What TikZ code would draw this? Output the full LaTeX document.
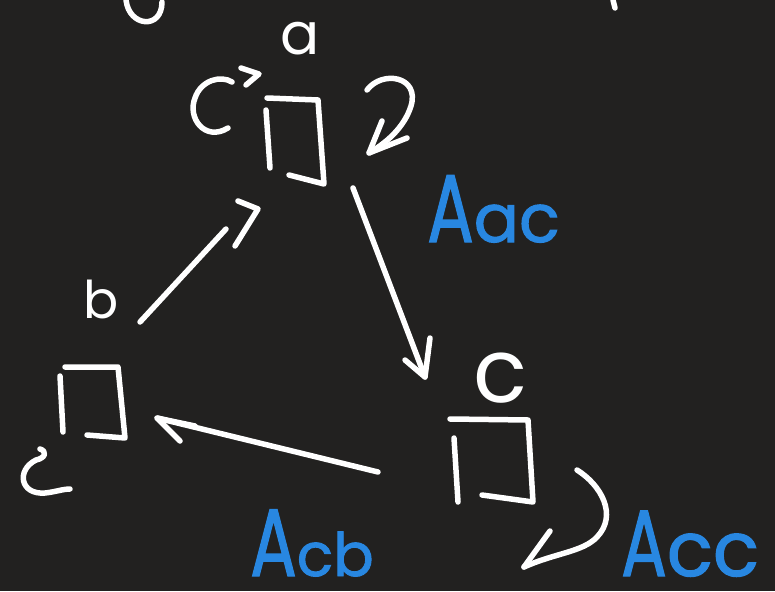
\documentclass[tikz,border=0pt]{standalone}
\usepackage{graphicx}
\usepackage{fontspec}
\newfontfamily\handfont{Poppins}
\newfontfamily\handheavy{Poppins}[FakeBold=1.5]
\usetikzlibrary{calc}
\definecolor{board}{RGB}{34,33,32}
\definecolor{penblue}{RGB}{40,135,225}
\tikzset{
  ink/.style={draw=white, line width=5.5pt, line cap=round, line join=round},
  statebox/.style={inner sep=0pt, draw=none},
  whitelbl/.style={text=white, inner sep=0pt, text depth=0pt, font=\handfont},
  bluelbl/.style={text=penblue, inner sep=0pt, text depth=0pt, font=\handheavy},
}
% a weight: narrow capital followed by smaller lower-case letters
\newcommand\weight[4]{{\fontsize{#1}{#1}\selectfont\scalebox{0.72}[1]{A}\fontsize{#3}{#3}\selectfont #4}}
\begin{document}
\begin{tikzpicture}[x=1pt,y=-1pt]
  \fill[board] (0,0) rectangle (775,591);
  \useasboundingbox (0,0) rectangle (775,591);

  % stray strokes along the top edge
  \draw[ink] (126,0) .. controls (129,27) and (162,30) .. (162,2);
  \draw[ink] (613,0) -- (615,8);

  % the three states
  \node[statebox, minimum width=60pt, minimum height=86pt] (a) at (295,141) {};
  \node[statebox, minimum width=67pt, minimum height=71pt] (b) at (91.5,402.5) {};
  \node[statebox, minimum width=83pt, minimum height=83pt] (c) at (491.5,460.5) {};

  % state boxes, drawn as two strokes each
  \draw[ink] (266,110) -- (270,168);
  \draw[ink] (267,98) -- (318,100) -- (324,184) -- (289,175);
  \draw[ink] (60,376) -- (63,432);
  \draw[ink] (65,367) -- (118,367) -- (125,438) -- (87,435);
  \draw[ink] (454,438) -- (458,502);
  \draw[ink] (450,419) -- (528,420) -- (533,502) -- (482,495);

  % state names
  \node[whitelbl, anchor=base west] (la) at (280,55) {\fontsize{58}{58}\selectfont a};
  \node[whitelbl, anchor=base west] (lb) at (83,318) {\fontsize{52}{52}\selectfont b};
  \node[whitelbl, anchor=base west] (lc) at (473,402) {\fontsize{89}{89}\selectfont c};

  % connector end points
  \coordinate (ba-s) at (140,322);
  \coordinate (ba-e) at (226,229);
  \coordinate (ac-s) at (353,188);
  \coordinate (ac-e) at (425,377);
  \coordinate (cb-s) at (378,472);
  \coordinate (cb-e) at (157,418);

  % b -> a
  \draw[ink] (ba-s) -- (ba-e);
  \draw[ink] (235,246) -- (258,209) -- (238,201);
  % a -> c
  \draw[ink] (ac-s) -- (ac-e);
  \draw[ink] (405,360) -- (ac-e) -- (430,338);
  % c -> b
  \draw[ink] (cb-s) -- (cb-e);
  \draw[ink] (195,426) -- (cb-e) -- (180,441);

  % self-loops on a
  \draw[ink] (228,128) .. controls (205,142) and (187,118) .. (195,98)
             .. controls (201,80) and (221,75) .. (232,82);
  \draw[ink] (241,68) -- (259,74) -- (246,85);
  \draw[ink] (367,90) .. controls (382,70) and (420,76) .. (411,106)
             .. controls (404,128) and (386,143) .. (369,153);
  \draw[ink] (382,121) -- (369,153) -- (407,138);

  % self-loop on b
  \draw[ink] (40,449) .. controls (47,451) and (46,458) .. (36,460)
             .. controls (16,470) and (20,495) .. (45,493)
             .. controls (55,492) and (63,489) .. (70,489);

  % self-loop on c
  \draw[ink] (577,470) .. controls (601,485) and (618,515) .. (597,537)
             .. controls (583,552) and (555,553) .. (524,567);
  \draw[ink] (550,531) -- (524,567);

  % transition weights
  \node[bluelbl, anchor=base west] (wac) at (427,242) {\weight{96}{A}{67}{ac}};
  \node[bluelbl, anchor=base west] (wcb) at (250,576) {\weight{96}{A}{60}{cb}};
  \node[bluelbl, anchor=base west] (wcc) at (621,576) {\weight{94}{A}{76}{cc}};
\end{tikzpicture}
\end{document}
